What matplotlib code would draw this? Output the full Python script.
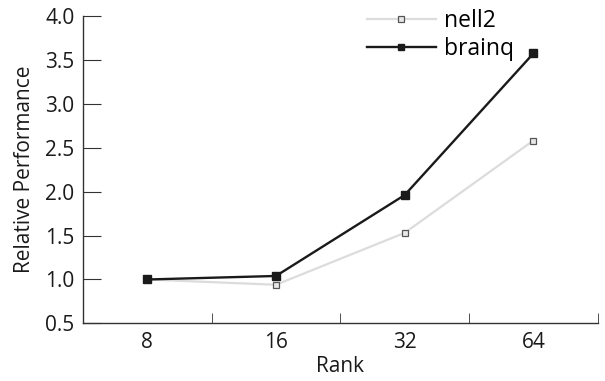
import numpy as np
import matplotlib
matplotlib.use("Agg")
import matplotlib.pyplot as plt

plt.rcParams['font.family'] = ['Open Sans', 'DejaVu Sans']

# data
ranks = ['8', '16', '32', '64']
nell2 = [1.0, 0.94, 1.53, 2.58]
brainq = [1.0, 1.04, 1.96, 3.57]
y_ticks = [0.5, 1.0, 1.5, 2.0, 2.5, 3.0, 3.5, 4.0]

fig = plt.figure(figsize=(6.05, 3.81), dpi=100)
ax = fig.add_axes([0.137, 0.151, 0.851, 0.808])

x = np.arange(len(ranks))
ax.plot(x, nell2, color='#dcdcdc', lw=1.6, marker='s', ms=5,
        mfc='#e8e8e8', mec='#555555', mew=0.9, label='nell2')
ax.plot(x, brainq, color='#1a1a1a', lw=1.7, marker='s', ms=5.5,
        mfc='#1a1a1a', mec='#1a1a1a', label='brainq')

ax.set_xlim(-0.5, len(ranks) - 0.5)
ax.set_ylim(0.5, 4.0)
ax.set_yticks(y_ticks)
ax.set_yticklabels([f'{v:.1f}' for v in y_ticks])

# category labels centred, tick marks on the boundaries
ax.set_xticks(x)
ax.set_xticklabels(ranks)
ax.set_xticks(np.arange(len(ranks)) + 0.5, minor=True)
ax.tick_params(axis='x', which='major', length=0, pad=6)
ax.tick_params(axis='x', which='minor', direction='in', length=7, color='#333333')
ax.tick_params(axis='y', direction='in', length=13, color='#333333', pad=6)
ax.tick_params(labelsize=15, labelcolor='#1a1a1a')

for s in ['top', 'right']:
    ax.spines[s].set_visible(False)
for s in ['left', 'bottom']:
    ax.spines[s].set_color('#333333')
    ax.spines[s].set_linewidth(1.0)

ax.set_xlabel('Rank', fontsize=15, color='#1a1a1a', labelpad=2)
ax.set_ylabel('Relative Performance', fontsize=15, color='#1a1a1a', labelpad=7)

ax.legend(loc='upper left', bbox_to_anchor=(0.512, 1.09), frameon=False,
          fontsize=16.5, handlelength=3.0, handletextpad=0.35, labelspacing=0.2,
          markerscale=0.8)

fig.savefig('out.png', dpi=100)
